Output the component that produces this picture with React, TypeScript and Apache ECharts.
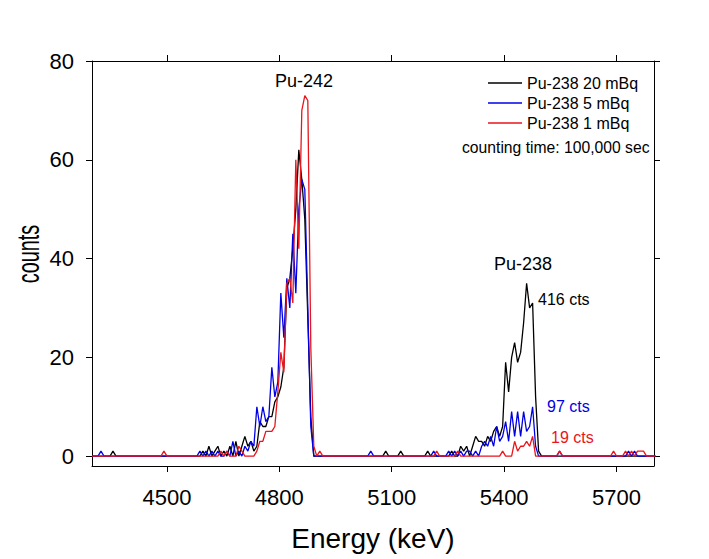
import React, { useEffect, useRef } from "react";
import * as echarts from "echarts";

const BIN_START = 4300;
const BIN_END = 5800;
const BIN_WIDTH = 8;

const seriesNames = ["Pu-238 20 mBq", "Pu-238 5 mBq", "Pu-238 1 mBq"];
const seriesColors = ["#000000", "#0000e6", "#e8151b"];

const xTicks = [4500, 4800, 5100, 5400, 5700];
const yTicks = [0, 20, 40, 60, 80];

// [energy keV, counts] for non-empty channels
const counts20mBq: [number, number][] = [
  [4356, 1], [4596, 1], [4612, 2], [4628, 1], [4636, 2], [4652, 1], [4668, 2], [4684, 3], [4700, 2],
  [4708, 4], [4716, 2], [4724, 3], [4732, 1], [4740, 2], [4748, 7], [4756, 6], [4764, 6], [4772, 8],
  [4780, 8], [4788, 11], [4796, 12], [4804, 14], [4812, 18], [4820, 34], [4828, 36], [4836, 42],
  [4844, 50], [4852, 62], [4860, 56], [4868, 48], [4876, 28], [4884, 8],
  [5084, 1], [5124, 1], [5196, 1], [5260, 1], [5284, 2], [5292, 1], [5300, 2], [5316, 2], [5324, 4],
  [5332, 3], [5340, 3], [5348, 2], [5356, 4], [5364, 3], [5372, 5], [5380, 6], [5388, 4], [5396, 6],
  [5404, 19], [5412, 13], [5420, 20], [5428, 23], [5436, 19], [5444, 21], [5452, 27], [5460, 35],
  [5468, 30], [5476, 31], [5484, 12], [5492, 1],
];

const counts5mBq: [number, number][] = [
  [4324, 1], [4588, 1], [4604, 1], [4620, 1], [4636, 1], [4660, 1], [4676, 3], [4692, 1], [4708, 2],
  [4716, 1], [4724, 3], [4732, 2], [4740, 10], [4748, 6], [4756, 10], [4764, 7], [4772, 8], [4780, 18],
  [4788, 12], [4796, 15], [4804, 33], [4812, 24], [4820, 36], [4828, 30], [4836, 45], [4844, 33],
  [4852, 50], [4860, 56], [4868, 54], [4876, 30], [4884, 6],
  [5044, 1], [5212, 1], [5252, 1], [5268, 1], [5284, 1], [5300, 1], [5308, 1], [5324, 1], [5340, 2],
  [5348, 3], [5356, 2], [5364, 4], [5372, 2], [5380, 6], [5388, 3], [5396, 4], [5404, 7], [5412, 3],
  [5420, 9], [5428, 4], [5436, 9], [5444, 4], [5452, 9], [5460, 5], [5468, 6], [5476, 10], [5484, 2],
  [5548, 1], [5732, 1], [5748, 1],
];

const counts1mBq: [number, number][] = [
  [4492, 1], [4644, 1], [4660, 1], [4692, 2], [4700, 1], [4740, 1], [4748, 3], [4756, 3], [4764, 5],
  [4772, 5], [4780, 5], [4788, 6], [4796, 13], [4804, 21], [4812, 17], [4820, 35], [4828, 36],
  [4836, 31], [4844, 60], [4852, 42], [4860, 70], [4868, 73], [4876, 72], [4884, 22], [4892, 2],
  [4908, 1],
  [5220, 1], [5276, 1], [5396, 1], [5428, 3], [5436, 1], [5444, 2], [5452, 2], [5460, 3], [5468, 2],
  [5476, 4],
  [5548, 1], [5692, 1], [5724, 1], [5740, 1], [5756, 1], [5764, 1], [5772, 1],
];

const seriesCounts = [counts20mBq, counts5mBq, counts1mBq];

function toSpectrum(events: [number, number][]) {
  const n = Math.round((BIN_END - BIN_START) / BIN_WIDTH);
  const arr: number[] = new Array(n + 1).fill(0);
  for (const [e, c] of events) {
    const i = Math.round((e - BIN_START) / BIN_WIDTH);
    if (i >= 0 && i <= n) arr[i] = c;
  }
  return arr.map((c, i) => [BIN_START + i * BIN_WIDTH, c]);
}

const FONT = "'Liberation Sans', Arial, sans-serif";

export default function App() {
  const ref = useRef<HTMLDivElement>(null);
  useEffect(() => {
    if (!ref.current) return;
    const chart = echarts.init(ref.current, undefined, { renderer: "svg" });
    const axisLine = { show: true, onZero: false, lineStyle: { color: "#000", width: 1 } };
    const tick = (vals: number[]) => ({
      show: true, inside: false, length: 6, customValues: vals, lineStyle: { color: "#000", width: 1 },
    });
    chart.setOption({
      animation: false,
      backgroundColor: "#ffffff",
      textStyle: { fontFamily: FONT },
      grid: { left: 92, right: 55, top: 61, bottom: 93, show: false },
      legend: {
        data: seriesNames,
        orient: "vertical",
        left: 488,
        top: 74,
        padding: 0,
        icon: "rect",
        itemWidth: 34,
        itemHeight: 1.5,
        itemGap: 2,
        textStyle: { fontSize: 16, lineHeight: 18, color: "#000", fontFamily: FONT },
      },
      xAxis: [
        {
          type: "value", position: "bottom", min: BIN_START, max: BIN_END,
          axisLine, axisTick: tick(xTicks),
          axisLabel: {
            customValues: xTicks, fontSize: 22, margin: 20, color: "#000", fontFamily: FONT,
            formatter: (v: number) => String(v),
          },
          splitLine: { show: false },
          name: "Energy (keV)", nameLocation: "middle", nameGap: 58,
          nameTextStyle: { fontSize: 28, color: "#000", fontFamily: FONT },
        },
        {
          type: "value", position: "top", min: BIN_START, max: BIN_END,
          axisLine, axisTick: tick(xTicks), axisLabel: { show: false }, splitLine: { show: false },
        },
      ],
      yAxis: [
        {
          type: "value", position: "left", min: -2, max: 80,
          axisLine, axisTick: tick(yTicks),
          axisLabel: {
            customValues: yTicks, fontSize: 22, margin: 18, color: "#000", fontFamily: FONT,
            formatter: (v: number) => String(v),
          },
          splitLine: { show: false },
        },
        {
          type: "value", position: "right", min: -2, max: 80,
          axisLine, axisTick: tick(yTicks), axisLabel: { show: false }, splitLine: { show: false },
        },
      ],
      series: seriesCounts.map((d, i) => ({
        name: seriesNames[i],
        type: "line",
        xAxisIndex: 0,
        yAxisIndex: 0,
        symbol: "none",
        data: toSpectrum(d),
        color: seriesColors[i],
        lineStyle: { color: seriesColors[i], width: 1.3 },
        z: 2 + i,
      })),
      graphic: [
        {
          type: "text", x: 28, y: 254, rotation: Math.PI / 2, scaleX: 0.64,
          style: { text: "counts", fontSize: 31, fill: "#000", align: "center", verticalAlign: "middle", fontFamily: FONT },
        },
        { type: "text", x: 304, y: 81, style: { text: "Pu-242", fontSize: 18, fill: "#000", align: "center", verticalAlign: "middle", fontFamily: FONT } },
        { type: "text", x: 523, y: 264, style: { text: "Pu-238", fontSize: 18, fill: "#000", align: "center", verticalAlign: "middle", fontFamily: FONT } },
        { type: "text", x: 538, y: 299, style: { text: "416 cts", fontSize: 16, fill: "#000", align: "left", verticalAlign: "middle", fontFamily: FONT } },
        { type: "text", x: 547, y: 406, style: { text: "97 cts", fontSize: 16, fill: "#0000e6", align: "left", verticalAlign: "middle", fontFamily: FONT } },
        { type: "text", x: 551, y: 437, style: { text: "19 cts", fontSize: 16, fill: "#e8151b", align: "left", verticalAlign: "middle", fontFamily: FONT } },
        { type: "text", x: 462, y: 147, style: { text: "counting time: 100,000 sec", fontSize: 15.7, fill: "#000", align: "left", verticalAlign: "middle", fontFamily: FONT } },
      ],
    });
    return () => chart.dispose();
  }, []);
  return (
    <div
      ref={ref}
      style={{ position: "fixed", left: 0, top: 0, width: 709, height: 559, background: "#fff" }}
    />
  );
}
